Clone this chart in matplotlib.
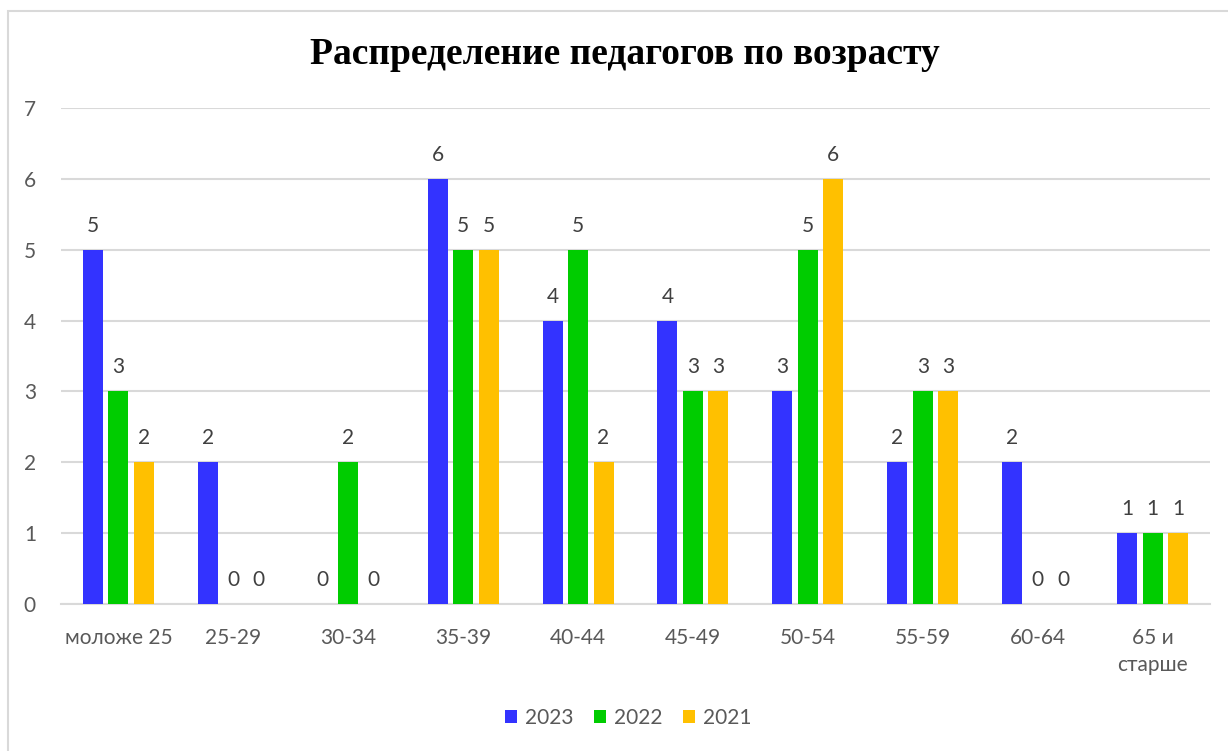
import matplotlib.pyplot as plt
import numpy as np
from matplotlib.patches import Rectangle

categories = ['моложе 25', '25-29', '30-34', '35-39', '40-44', '45-49',
              '50-54', '55-59', '60-64', '65 и\nстарше']
years = ['2023', '2022', '2021']
v2023 = [5, 2, 0, 6, 4, 4, 3, 2, 2, 1]
v2022 = [3, 0, 2, 5, 5, 3, 5, 3, 0, 1]
v2021 = [2, 0, 0, 5, 2, 3, 6, 3, 0, 1]
colors = ['#3333FF', '#00CC00', '#FFC000']

plt.rcParams['font.family'] = ['Lato', 'DejaVu Sans']

fig = plt.figure(figsize=(12.28, 7.51), dpi=100)
ax = fig.add_axes([61 / 1228, 1 - 604 / 751, (1210 - 61) / 1228, (604 - 108) / 751])

# outer chart frame
fig.patches.append(Rectangle((8 / 1228, -0.05), 1.2, 1 - 11 / 751 + 0.05,
                             transform=fig.transFigure, fill=False,
                             edgecolor='#D9D9D9', linewidth=1.5))

x = np.arange(len(categories))
width = 0.174
offs = [-0.222, 0, 0.222]
series = [v2023, v2022, v2021]
for vals, off, col, lab in zip(series, offs, colors, years):
    bars = ax.bar(x + off, vals, width, color=col, label=lab, zorder=3)
    for b, v in zip(bars, vals):
        ax.annotate(str(v), (b.get_x() + b.get_width() / 2, v),
                    xytext=(0, 24), textcoords='offset pixels',
                    ha='center', va='center', fontsize=15, color='#404040')

ax.set_xlim(-0.5, len(categories) - 0.5)
ax.set_ylim(0, 7)
ax.set_yticks(range(8))
ax.yaxis.grid(True, color='#D9D9D9', linewidth=1.5, zorder=0)
ax.set_axisbelow(True)
for s in ['top', 'right', 'left']:
    ax.spines[s].set_visible(False)
ax.spines['bottom'].set_color('#D9D9D9')
ax.spines['bottom'].set_linewidth(1.5)
ax.tick_params(length=0, labelsize=15, labelcolor='#595959')
ax.tick_params(axis='y', pad=18)
ax.tick_params(axis='x', pad=17)
ax.set_xticks(x)
ax.set_xticklabels(categories, linespacing=1.45)

fig.text(625 / 1228, 1 - 55 / 751, 'Распределение педагогов по возрасту',
         ha='center', va='center', fontsize=27, fontweight='bold',
         family='Liberation Serif')

fig.legend(loc='center', bbox_to_anchor=(628 / 1228, 1 - 718 / 751), ncol=3,
           frameon=False, fontsize=15, handlelength=0.6, handleheight=0.6,
           handletextpad=0.35, columnspacing=1.0, labelcolor='#595959')

fig.savefig('out.png', dpi=100)
